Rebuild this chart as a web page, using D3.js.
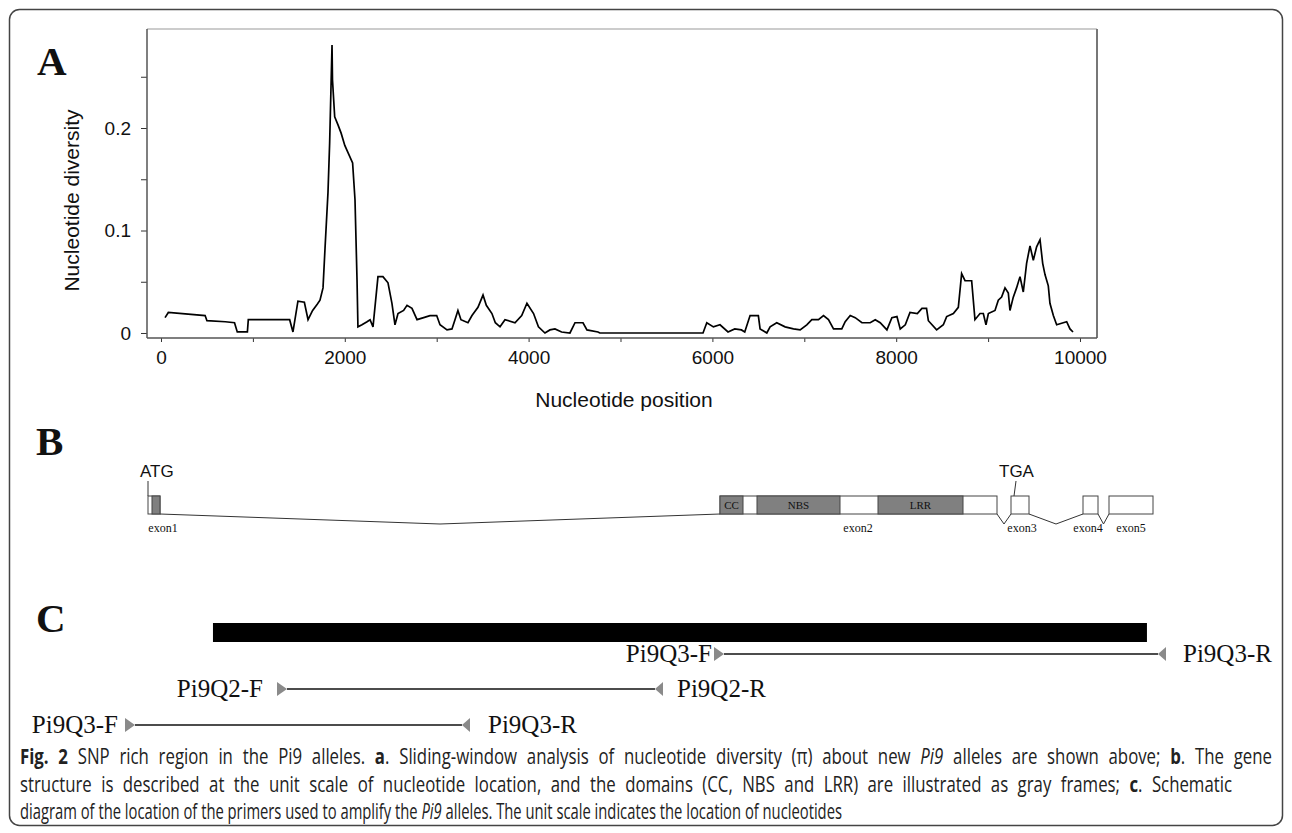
<!DOCTYPE html>
<meta charset="utf-8">
<style>
body { margin: 0; background: #fff; }
svg text { fill: #111; }
.sans { font-family: "Liberation Sans", Arial, sans-serif; }
.serif { font-family: "Liberation Serif", "Times New Roman", serif; }
.axis text { font-family: "Liberation Sans", Arial, sans-serif; font-size: 19px; fill: #111; }
.axis line { stroke: #333; }
.caption { font-family: "Open Sans", "DejaVu Sans", sans-serif; font-size: 21px; fill: #222; }
</style>
<body>
<svg id="fig" width="1292" height="833"></svg>
<script src="https://d3js.org/d3.v7.min.js"></script>
<script>
// ---- panel A: sliding window nucleotide diversity ----
var positions = [44, 80, 480, 500, 700, 800, 830, 940, 950, 1400, 1436, 1490, 1560, 1600, 1650, 1700, 1730, 1763, 1785, 1817,
    1835, 1861, 1866, 1890, 1926, 1960, 2000, 2035, 2085, 2111, 2133, 2143, 2187, 2242, 2275, 2307, 2361, 2415, 2470, 2513,
    2546, 2579, 2640, 2677, 2731, 2786, 2858, 2927, 3000, 3036, 3112, 3166, 3199, 3231, 3264, 3340, 3384, 3449, 3504, 3540,
    3601, 3638, 3689, 3743, 3852, 3925, 3982, 4054, 4107, 4178, 4232, 4287, 4359, 4450, 4505, 4592, 4635, 4755, 4775, 5898,
    5939, 6011, 6083, 6170, 6243, 6316, 6352, 6410, 6500, 6519, 6592, 6628, 6700, 6791, 6882, 6955, 7027, 7082, 7154, 7209,
    7263, 7318, 7408, 7445, 7500, 7554, 7627, 7717, 7772, 7826, 7899, 7953, 8008, 8044, 8099, 8150, 8230, 8280, 8330, 8350,
    8440, 8513, 8549, 8622, 8676, 8712, 8749, 8821, 8857, 8912, 8948, 8977, 9003, 9075, 9111, 9147, 9184, 9220, 9238, 9274,
    9310, 9347, 9383, 9419, 9456, 9492, 9528, 9565, 9594, 9619, 9655, 9673, 9710, 9746, 9818, 9855, 9891, 9924];
var diversity = [0.015, 0.020, 0.017, 0.012, 0.011, 0.010, 0.001, 0.001, 0.013, 0.013, 0.001, 0.031, 0.030, 0.013, 0.022, 0.028, 0.032, 0.044, 0.083, 0.137,
    0.185, 0.281, 0.247, 0.211, 0.203, 0.195, 0.183, 0.176, 0.166, 0.130, 0.052, 0.006, 0.008, 0.011, 0.013, 0.006, 0.055, 0.055, 0.049, 0.029,
    0.008, 0.019, 0.022, 0.027, 0.024, 0.013, 0.015, 0.017, 0.017, 0.008, 0.003, 0.004, 0.013, 0.022, 0.013, 0.010, 0.017, 0.025, 0.037, 0.027,
    0.019, 0.010, 0.006, 0.013, 0.010, 0.017, 0.029, 0.019, 0.006, 0.000, 0.003, 0.004, 0.001, 0.000, 0.010, 0.010, 0.003, 0.001, 0.000, 0.000,
    0.010, 0.006, 0.008, 0.001, 0.004, 0.003, 0.001, 0.017, 0.017, 0.004, 0.000, 0.006, 0.010, 0.006, 0.004, 0.003, 0.008, 0.013, 0.013, 0.017,
    0.013, 0.004, 0.004, 0.011, 0.017, 0.015, 0.010, 0.010, 0.013, 0.010, 0.003, 0.015, 0.016, 0.004, 0.008, 0.020, 0.019, 0.024, 0.024, 0.012,
    0.003, 0.008, 0.016, 0.019, 0.025, 0.058, 0.051, 0.051, 0.013, 0.019, 0.019, 0.008, 0.019, 0.022, 0.032, 0.035, 0.044, 0.039, 0.022, 0.035,
    0.044, 0.055, 0.040, 0.068, 0.085, 0.071, 0.084, 0.091, 0.068, 0.057, 0.046, 0.029, 0.017, 0.008, 0.010, 0.011, 0.004, 0.001];
var xTicks = [0, 1000, 2000, 3000, 4000, 5000, 6000, 7000, 8000, 9000, 10000];
var xTickLabels = ["0", "", "2000", "", "4000", "", "6000", "", "8000", "", "10000"];
var yTicks = [0, 0.05, 0.1, 0.15, 0.2, 0.25];
var yTickLabels = ["0", "", "0.1", "", "0.2", ""];

// ---- panel B: gene structure (schematic units) ----
var exonNames = ["exon1", "exon2", "exon3", "exon4", "exon5"];
var exonStart = [0, 572, 863, 935, 961];
var exonEnd = [12, 849, 881, 950, 1005];
var exonLabelAt = [15, 710, 874, 940, 983];
var grayStart = [4, 572, 609, 730];
var grayEnd = [12, 595, 692, 815];
var domainNames = ["", "CC", "NBS", "LRR"];
var codonNames = ["ATG", "TGA"];
var codonAt = [0, 866];

// ---- panel C: primers (schematic units) ----
var regionStart = 84.5, regionEnd = 981.7;
var fwdNames = ["Pi9Q3-F", "Pi9Q2-F", "Pi9Q3-F"];
var revNames = ["Pi9Q3-R", "Pi9Q2-R", "Pi9Q3-R"];
var fwdAt = [565.8, 146, 0];
var revAt = [1000, 516.8, 331.4];
var fwdGap = [2, 14, 7];
var revGap = [17, 14, 18];

var svg = d3.select("#fig");

// outer frame
svg.append("rect").attr("x", 9.5).attr("y", 9.5).attr("width", 1273).attr("height", 816)
    .attr("rx", 10).attr("fill", "none").attr("stroke", "#444").attr("stroke-width", 1.5);

// panel letters
[["A", 37, 75], ["B", 36, 455], ["C", 36, 632]].forEach(function (p) {
    svg.append("text").attr("class", "serif").attr("x", p[1]).attr("y", p[2])
        .style("font-size", "41px").style("font-weight", "bold").text(p[0]);
});

// ---------- A ----------
var pLeft = 147, pRight = 1097, pTop = 29, pBottom = 338;
var x = d3.scaleLinear().domain([-152.3, 10185]).range([pLeft, pRight]);
var y = d3.scaleLinear().domain([-0.00488, 0.2966]).range([pBottom, pTop]);

svg.append("g").attr("class", "axis")
    .attr("transform", "translate(" + pLeft + ",0)")
    .call(d3.axisLeft(y).tickValues(yTicks).tickSize(6).tickPadding(10)
        .tickFormat(function (d, i) { return yTickLabels[i]; }))
    .call(function (g) { g.select(".domain").remove(); });

svg.append("g").attr("class", "axis")
    .attr("transform", "translate(0," + pBottom + ")")
    .call(d3.axisBottom(x).tickValues(xTicks).tickSize(4).tickPadding(9)
        .tickFormat(function (d, i) { return xTickLabels[i]; }))
    .call(function (g) { g.select(".domain").remove(); });

// frame of the plot
svg.append("line").attr("x1", pLeft).attr("x2", pRight).attr("y1", pTop).attr("y2", pTop)
    .attr("stroke", "#bbb").attr("stroke-width", 1.5);
svg.append("line").attr("x1", pRight).attr("x2", pRight).attr("y1", pTop).attr("y2", pBottom)
    .attr("stroke", "#777").attr("stroke-width", 2);
svg.append("line").attr("x1", pLeft).attr("x2", pLeft).attr("y1", pTop).attr("y2", pBottom)
    .attr("stroke", "#555").attr("stroke-width", 1.5);
svg.append("line").attr("x1", pLeft).attr("x2", pRight).attr("y1", pBottom).attr("y2", pBottom)
    .attr("stroke", "#555").attr("stroke-width", 1.5);

var line = d3.line()
    .x(function (d, i) { return x(positions[i]); })
    .y(function (d) { return y(d); });

svg.append("path").datum(diversity)
    .attr("d", line).attr("fill", "none")
    .attr("stroke", "#000").attr("stroke-width", 1.7).attr("stroke-linejoin", "miter");

svg.append("text").attr("class", "sans").attr("x", (pLeft + pRight) / 2 + 2).attr("y", 407)
    .attr("text-anchor", "middle").style("font-size", "21px").text("Nucleotide position");
svg.append("text").attr("class", "sans")
    .attr("transform", "translate(79," + ((pTop + pBottom) / 2 + 17) + ") rotate(-90)")
    .attr("text-anchor", "middle").style("font-size", "21px").text("Nucleotide diversity");

// ---------- B ----------
var gx = d3.scaleLinear().domain([0, 1005]).range([148, 1153]);
var bTop = 496, bBot = 514, dip = 10;

// introns
var intronPts = [];
for (var i = 0; i < exonNames.length - 1; i++) {
    intronPts.push([[gx(exonEnd[i]), bBot], [(gx(exonEnd[i]) + gx(exonStart[i + 1])) / 2, bBot + dip], [gx(exonStart[i + 1]), bBot]]);
}
svg.selectAll(".intron").data(intronPts).enter().append("path")
    .attr("class", "intron").attr("d", d3.line()).attr("fill", "none")
    .attr("stroke", "#333").attr("stroke-width", 1);

// exons
svg.selectAll(".exon").data(exonNames).enter().append("rect")
    .attr("class", "exon")
    .attr("x", function (d, i) { return gx(exonStart[i]); })
    .attr("y", bTop)
    .attr("width", function (d, i) { return gx(exonEnd[i]) - gx(exonStart[i]); })
    .attr("height", bBot - bTop)
    .attr("fill", "#fff").attr("stroke", "#444").attr("stroke-width", 1);

svg.selectAll(".dom").data(domainNames).enter().append("rect")
    .attr("class", "dom")
    .attr("x", function (d, i) { return gx(grayStart[i]); })
    .attr("y", bTop)
    .attr("width", function (d, i) { return gx(grayEnd[i]) - gx(grayStart[i]); })
    .attr("height", bBot - bTop)
    .attr("fill", "#808080").attr("stroke", "#444").attr("stroke-width", 1);

svg.selectAll(".domlab").data(domainNames).enter().append("text")
    .attr("class", "serif domlab")
    .attr("x", function (d, i) { return (gx(grayStart[i]) + gx(grayEnd[i])) / 2; })
    .attr("y", bTop + 13).attr("text-anchor", "middle")
    .style("font-size", "11px").text(function (d) { return d; });

svg.selectAll(".exlab").data(exonNames).enter().append("text")
    .attr("class", "serif exlab")
    .attr("x", function (d, i) { return gx(exonLabelAt[i]); })
    .attr("y", 532).attr("text-anchor", "middle")
    .style("font-size", "12px").text(function (d) { return d; });

codonNames.forEach(function (c, i) {
    var px = gx(codonAt[i]);
    svg.append("line").attr("x1", px + (i ? 2 : 0)).attr("x2", px).attr("y1", 481).attr("y2", bTop)
        .attr("stroke", "#333").attr("stroke-width", 1);
    svg.append("text").attr("class", "sans").attr("x", px - (i ? 15 : 8)).attr("y", 477)
        .style("font-size", "17px").text(c);
});

// ---------- C ----------
var cx = d3.scaleLinear().domain([0, 1000]).range([125, 1166]);
svg.append("rect").attr("x", cx(regionStart)).attr("y", 623)
    .attr("width", cx(regionEnd) - cx(regionStart)).attr("height", 19).attr("fill", "#000");

var rowY = [654, 689, 725];
fwdNames.forEach(function (f, i) {
    var x0 = cx(fwdAt[i]), x1 = cx(revAt[i]), yy = rowY[i];
    svg.append("line").attr("x1", x0 + 10).attr("x2", x1 - 8).attr("y1", yy).attr("y2", yy)
        .attr("stroke", "#111").attr("stroke-width", 1.3);
    svg.append("path").attr("d", "M" + x0 + "," + (yy - 7) + "L" + (x0 + 10) + "," + yy + "L" + x0 + "," + (yy + 7) + "Z")
        .attr("fill", "#8a8a8a");
    svg.append("path").attr("d", "M" + x1 + "," + (yy - 7) + "L" + (x1 - 8) + "," + yy + "L" + x1 + "," + (yy + 7) + "Z")
        .attr("fill", "#8a8a8a");
    svg.append("text").attr("class", "serif").attr("x", x0 - fwdGap[i]).attr("y", yy + 8)
        .attr("text-anchor", "end").style("font-size", "25px").text(f);
    svg.append("text").attr("class", "serif").attr("x", x1 + revGap[i]).attr("y", yy + 8)
        .style("font-size", "25px").text(revNames[i]);
});

// ---------- caption (justified, condensed) ----------
var capLines = [
    [["b", "Fig. 2"], ["n", " SNP rich region in the Pi9 alleles. "], ["b", "a"], ["n", ". Sliding-window analysis of nucleotide diversity (π) about new "], ["i", "Pi9"], ["n", " alleles are shown above; "], ["b", "b"], ["n", ". The gene"]],
    [["n", "structure is described at the unit scale of nucleotide location, and the domains (CC, NBS and LRR) are illustrated as gray frames; "], ["b", "c"], ["n", ". Schematic"]],
    [["n", "diagram of the location of the primers used to amplify the "], ["i", "Pi9"], ["n", " alleles. The unit scale indicates the location of nucleotides"]]
];
var capWidth = [1252, 1212, 822];
var capY = [764, 792, 819];
var squeeze = 0.8;
capLines.forEach(function (parts, i) {
    var t = svg.append("text").attr("class", "caption")
        .attr("transform", "translate(20," + capY[i] + ") scale(" + squeeze + ",1)");
    parts.forEach(function (p) {
        t.append("tspan")
            .style("font-weight", p[0] === "b" ? "bold" : "normal")
            .style("font-style", p[0] === "i" ? "italic" : "normal")
            .text(p[1]);
    });
    var target = capWidth[i] / squeeze;
    if (i < 2) {
        // justified lines: spread the extra room over the word gaps
        var natural = t.node().getComputedTextLength();
        var gaps = parts.map(function (p) { return p[1]; }).join("").split(" ").length - 1;
        t.style("word-spacing", ((target - natural) / gaps) + "px");
    } else {
        t.attr("textLength", target).attr("lengthAdjust", "spacingAndGlyphs");
    }
});
</script>
</body>
